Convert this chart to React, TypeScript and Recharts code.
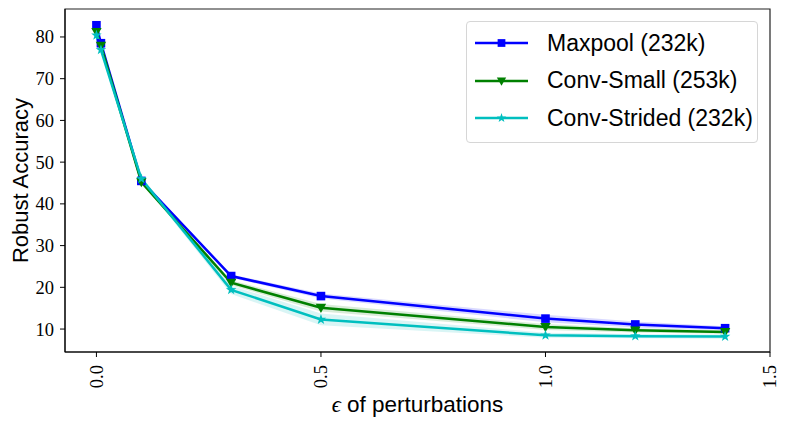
import React from 'react'
import { ComposedChart, Line, Area, XAxis, YAxis, ReferenceArea } from 'recharts';

const epsilons = [0, 0.01, 0.1, 0.3, 0.5, 1.0, 1.2, 1.4];
const maxpoolAcc = [82.8, 78.5, 45.5, 22.7, 17.9, 12.5, 11.1, 10.2];
const maxpoolStd = [0.3, 0.3, 0.3, 0.4, 0.6, 0.9, 0.7, 0.5];
const convSmallAcc = [81.2, 77.9, 45.2, 21.1, 15.1, 10.5, 9.7, 9.3];
const convSmallStd = [0.3, 0.3, 0.3, 0.6, 0.9, 0.7, 0.5, 0.4];
const convStridedAcc = [80.4, 76.9, 46.0, 19.4, 12.3, 8.5, 8.3, 8.2];
const convStridedStd = [0.4, 0.4, 0.5, 1.0, 1.4, 0.6, 0.5, 0.5];

const xTicks = [0, 0.5, 1.0, 1.5];
const yTicks = [10, 20, 30, 40, 50, 60, 70, 80];

const series = [
  { key: 'maxpool', name: 'Maxpool (232k)', color: '#0000ff', marker: 'square' },
  { key: 'convSmall', name: 'Conv-Small (253k)', color: '#008000', marker: 'triangle' },
  { key: 'convStrided', name: 'Conv-Strided (232k)', color: '#00bfbf', marker: 'star' },
];

const data = epsilons.map((eps, i) => ({
  eps,
  maxpool: maxpoolAcc[i],
  maxpoolBand: [maxpoolAcc[i] - maxpoolStd[i], maxpoolAcc[i] + maxpoolStd[i]],
  convSmall: convSmallAcc[i],
  convSmallBand: [convSmallAcc[i] - convSmallStd[i], convSmallAcc[i] + convSmallStd[i]],
  convStrided: convStridedAcc[i],
  convStridedBand: [convStridedAcc[i] - convStridedStd[i], convStridedAcc[i] + convStridedStd[i]],
}));

const serif = '"Liberation Serif", "DejaVu Serif", serif';
const sans = '"Liberation Sans", "DejaVu Sans", sans-serif';

const starPoints = (cx: number, cy: number, r: number) => {
  const pts: string[] = [];
  for (let k = 0; k < 10; k++) {
    const rr = k % 2 === 0 ? r : r * 0.4;
    const a = -Math.PI / 2 + (k * Math.PI) / 5;
    pts.push(`${cx + rr * Math.cos(a)},${cy + rr * Math.sin(a)}`);
  }
  return pts.join(' ');
};

const Marker = ({ type, cx, cy, color, size = 1 }: any) => {
  if (cx == null || cy == null) return null;
  if (type === 'square') {
    const s = 4.3 * size;
    return <rect x={cx - s} y={cy - s} width={s * 2} height={s * 2} fill={color} />;
  }
  if (type === 'triangle') {
    const s = 5.2 * size;
    return <polygon points={`${cx - s},${cy - s * 0.75} ${cx + s},${cy - s * 0.75} ${cx},${cy + s}`} fill={color} />;
  }
  return <polygon points={starPoints(cx, cy, 5.5 * size)} fill={color} />;
};

const XTick = ({ x, y, payload }: any) => (
  <text x={x} y={y + 6} transform={`rotate(-90, ${x}, ${y + 6})`} textAnchor="end" dy="0.35em"
    fontFamily={serif} fontSize={18.5} fill="#000">
    {Number(payload.value).toFixed(1)}
  </text>
);

const YTick = ({ x, y, payload }: any) => (
  <text x={x - 4} y={y} textAnchor="end" dy="0.35em" fontFamily={serif} fontSize={18.5} fill="#000">
    {payload.value}
  </text>
);

const XLabel = ({ viewBox }: any) => (
  <text x={viewBox.x + viewBox.width / 2} y={viewBox.y + 52} textAnchor="middle" dy="0.35em"
    fontFamily={sans} fontSize={22.5} fill="#000">
    <tspan fontFamily={serif} fontStyle="italic">ϵ</tspan> of perturbations
  </text>
);

const YLabel = ({ viewBox }: any) => {
  const cx = 20;
  const cy = viewBox.y + viewBox.height / 2;
  return (
    <text x={cx} y={cy} transform={`rotate(-90, ${cx}, ${cy})`} textAnchor="middle" dy="0.35em"
      fontFamily={sans} fontSize={22} fill="#000">
      Robust Accuracy
    </text>
  );
};

const LegendBox = () => (
  <div style={{
    position: 'absolute', left: 466, top: 21, width: 292, height: 122, border: '1px solid #d6d6d6', borderRadius: 4,
    background: 'rgba(255,255,255,0.8)', boxSizing: 'border-box',
  }}>
    {series.map((s, i) => (
      <div key={s.key} style={{ position: 'absolute', left: 0, top: 7 + i * 37.5, height: 28, display: 'flex', alignItems: 'center' }}>
        <svg width={80} height={28}>
          <line x1={8} x2={61} y1={14} y2={14} stroke={s.color} strokeWidth={2.5} />
          <Marker type={s.marker} cx={34.5} cy={14} color={s.color} size={0.9} />
        </svg>
        <span style={{ fontFamily: sans, fontSize: 23, color: '#000', whiteSpace: 'nowrap' }}>{s.name}</span>
      </div>
    ))}
  </div>
);

const App = () => {
  return (
    <div style={{ position: 'absolute', left: 0, top: 0, width: 789, height: 423, background: '#fff' }}>
      <ComposedChart width={789} height={423} data={data} margin={{ top: 9, right: 19, left: 0, bottom: 0 }}>
        <XAxis dataKey="eps" type="number" domain={[-0.07, 1.5]} ticks={xTicks} allowDataOverflow
          height={71} stroke="#000" tickLine={{ stroke: '#000' }} tickSize={5} tick={<XTick />}
          label={<XLabel />} />
        <YAxis type="number" domain={[4.5, 86.7]} ticks={yTicks} allowDataOverflow width={65}
          stroke="#000" tickLine={{ stroke: '#000' }} tickSize={5} tick={<YTick />}
          label={<YLabel />} />
        <ReferenceArea x1={-0.07} x2={1.5} y1={4.5} y2={86.7} fill="none" stroke="#222" strokeWidth={1.2} ifOverflow="visible" />
        {series.map((s) => (
          <Area key={s.key + 'Band'} dataKey={s.key + 'Band'} type="linear" stroke="none" fill={s.color}
            fillOpacity={0.15} isAnimationActive={false} legendType="none" activeDot={false} />
        ))}
        {series.map((s) => (
          <Line key={s.key} dataKey={s.key} name={s.name} type="linear" stroke={s.color} strokeWidth={2.5}
            isAnimationActive={false} activeDot={false}
            dot={(p: any) => <Marker key={s.key + p.index} type={s.marker} cx={p.cx} cy={p.cy} color={s.color} />} />
        ))}
      </ComposedChart>
      <LegendBox />
    </div>
  );
};

export default App
